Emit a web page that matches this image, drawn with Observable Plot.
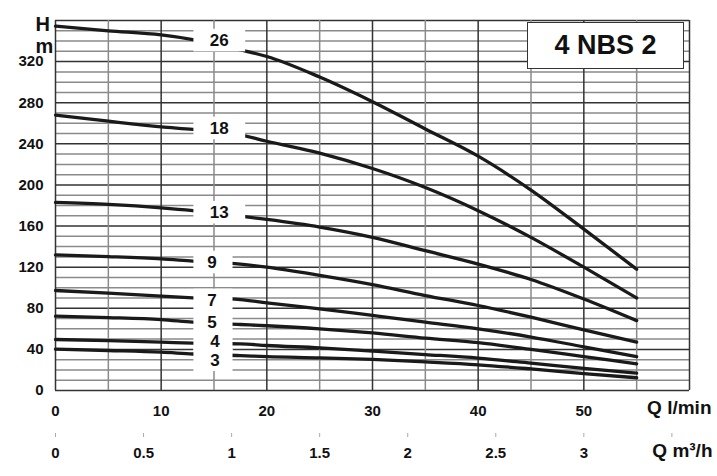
<!DOCTYPE html>
<html><head><meta charset="utf-8">
<script src="https://cdn.jsdelivr.net/npm/d3@7"></script>
<script src="https://cdn.jsdelivr.net/npm/@observablehq/plot@0.6"></script>
<style>
html,body{margin:0;padding:0;background:#fff;}
#wrap{position:relative;width:717px;height:476px;font-family:"Liberation Sans",Arial,sans-serif;}
#wrap svg{position:absolute;left:0;top:0;}
#title{position:absolute;z-index:2;left:527px;top:22px;width:157px;height:47px;box-sizing:border-box;border:1.5px solid #333;background:#fff;font-weight:bold;font-size:27px;display:flex;align-items:center;justify-content:center;color:#111;}
</style></head><body><div id="wrap"><div id="title">4 NBS 2</div></div>
<script>
// Flow rate Q (l/min) at which heads were read
const flow = [0, 5, 10, 13, 17.5, 20, 25, 30, 35, 40, 45, 50, 55];
// Number of stages per curve
const stages = [26, 18, 13, 9, 7, 5, 4, 3];
// Head H (m) for each curve
const h26 = [354.5, 350, 346, 341.5, 331.4, 325, 305, 281, 254.5, 228, 195, 157, 118];
const h18 = [268, 262, 256.5, 254, 248.7, 242.5, 231, 216, 197.5, 175, 149, 120, 90];
const h13 = [183, 181, 177.7, 175, 169.6, 166.4, 159, 149, 136, 123, 108, 89, 68];
const h9  = [132, 130.3, 128, 125.8, 123, 120, 112, 103, 92.4, 82.7, 71.3, 59, 47];
const h7  = [97.3, 94.7, 91.8, 90.2, 88.5, 85.3, 79.5, 73, 66.5, 60, 52, 42.5, 33];
const h5  = [72.3, 71, 69, 66.5, 64.2, 63, 60, 56, 51, 46.5, 40, 33, 26];
const h4  = [49.6, 48.6, 47, 46, 45.4, 43.8, 41.5, 38.3, 35, 31.5, 26.6, 21.5, 17];
const h3  = [40.2, 38.9, 37.3, 35.5, 34, 33, 31.8, 30.2, 27.8, 25, 21, 16.5, 12.4];
// Curve label positions (l/min, m)
const labelX = [15.5, 15.5, 15.5, 14.8, 14.8, 14.8, 15.1, 15.1];
const labelH = [340.5, 255, 173, 124.5, 87.6, 66, 48, 29.5];
// Axis ticks
const yTicks = [0, 40, 80, 120, 160, 200, 240, 280, 320];
const xTicks = [0, 10, 20, 30, 40, 50];
const m3Ticks = [0, 0.5, 1, 1.5, 2, 2.5, 3, 3.5];
const m3Labels = ["0", "0.5", "1", "1.5", "2", "2.5", "3", ""];

const heads = [h26, h18, h13, h9, h7, h5, h4, h3];
const rows = stages.flatMap((s, k) => flow.map((q, i) => ({stage: s, q, h: heads[k][i]})));
const labels = stages.map((s, k) => ({
  stage: s, x: labelX[k], y: labelH[k],
  x1: 13.1, x2: s >= 10 ? 18 : 16.8,
  y1: labelH[k] - 11, y2: Math.min(labelH[k] + 11, 359)
}));
const minorY = d3.range(0, 361, 10).filter(v => v % 40 !== 0);
const majorY = d3.range(0, 361, 40);
const minorX = d3.range(5, 61, 10);
const majorX = d3.range(0, 61, 10);
const m3ToLmin = v => v * 1000 / 60;

const chart = Plot.plot({
  width: 717, height: 476,
  marginLeft: 55, marginRight: 28, marginTop: 20, marginBottom: 86,
  x: {domain: [0, 60]},
  y: {domain: [0, 360]},
  style: {fontFamily: "'Liberation Sans', Arial, sans-serif", fontWeight: "bold", fontSize: "15px", color: "#111", background: "white"},
  marks: [
    Plot.ruleY(minorY, {stroke: "#8a8a8a", strokeWidth: 1.5}),
    Plot.ruleY(majorY, {stroke: "#333", strokeWidth: 1.5}),
    Plot.ruleX(minorX, {stroke: "#8a8a8a", strokeWidth: 1.5}),
    Plot.ruleX(majorX, {stroke: "#333", strokeWidth: 1.5}),
    Plot.line(rows, {x: "q", y: "h", z: "stage", stroke: "#1a1a1a", strokeWidth: 3.3, curve: "monotone-x"}),
    Plot.rect(labels, {x1: "x1", x2: "x2", y1: "y1", y2: "y2", fill: "white"}),
    Plot.text(labels, {x: "x", y: "y", text: d => String(d.stage), fontSize: 17, fontWeight: "bold", fill: "#111"}),
    Plot.axisY(yTicks, {tickSize: 0, tickPadding: 12, label: null, fontSize: 15, fontWeight: "bold"}),
    Plot.axisX(xTicks, {tickSize: 0, tickPadding: 15, label: null, fontSize: 15, fontWeight: "bold"}),
    Plot.axisX(m3Ticks.map(m3ToLmin), {tickSize: 4, tickPadding: 10, dy: 43, stroke: "#aaa", fill: "#111", label: null, fontSize: 15, fontWeight: "bold",
      tickFormat: d => m3Labels[m3Ticks.findIndex(v => Math.abs(m3ToLmin(v) - d) < 1e-6)]}),
    Plot.text(["H"], {frameAnchor: "top-left", dx: -20, dy: -4, fontSize: 20, fontWeight: "bold", fill: "#111"}),
    Plot.text(["m"], {frameAnchor: "top-left", dx: -20, dy: 18, fontSize: 20, fontWeight: "bold", fill: "#111"}),
    Plot.text(["Q l/min"], {frameAnchor: "bottom-right", textAnchor: "end", dx: 22, dy: 23, fontSize: 19, fontWeight: "bold", fill: "#111"}),
    Plot.text(["Q m³/h"], {frameAnchor: "bottom-right", textAnchor: "end", dx: 23, dy: 66, fontSize: 19, fontWeight: "bold", fill: "#111"})
  ]
});
document.getElementById("wrap").prepend(chart);
</script>
</body></html>
